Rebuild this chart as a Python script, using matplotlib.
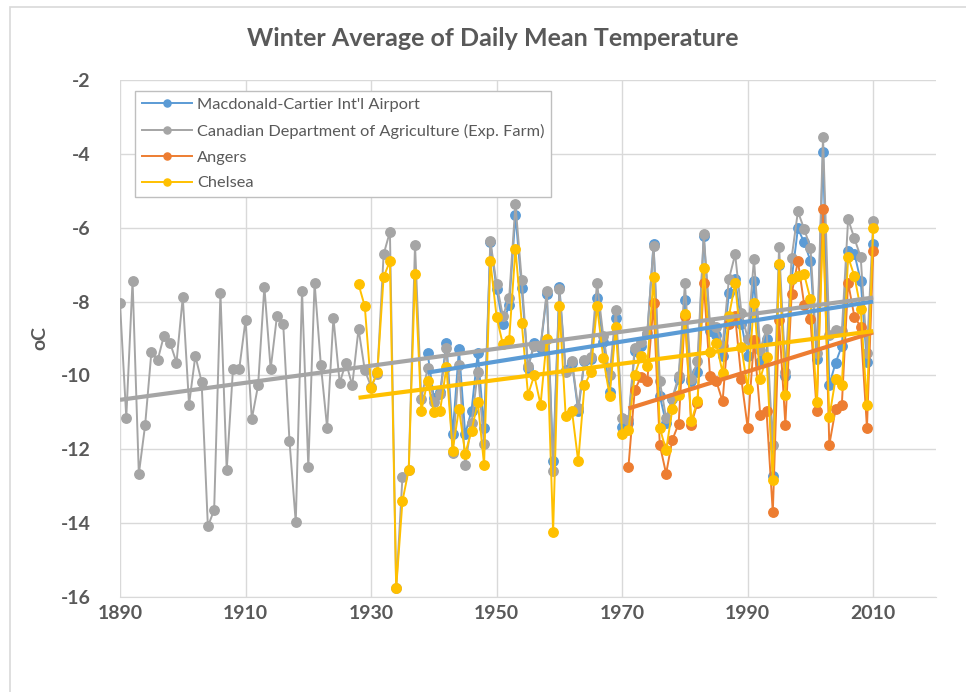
import numpy as np
import matplotlib.pyplot as plt
from matplotlib.patches import Rectangle

plt.rcParams['font.family'] = ['Lato', 'DejaVu Sans']
plt.rcParams['axes.unicode_minus'] = False

# 데이터
farm_years = list(range(1890, 2011))
farm = [-8.05, -11.14, -7.43, -12.67, -11.35, -9.37, -9.59, -8.92, -9.13, -9.65,
        -7.88, -10.79, -9.47, -10.17, -14.09, -13.64, -7.77, -12.57, -9.82, -9.82,
        -8.50, -11.18, -10.27, -7.60, -9.83, -8.40, -8.60, -11.77, -13.98, -7.71,
        -12.49, -7.49, -9.72, -11.42, -8.44, -10.20, -9.65, -10.27, -8.74, -9.86,
        -10.30, -9.95, -6.72, -6.11, -15.76, -12.75, -12.55, -6.46, -10.63, -9.81,
        -10.71, -10.50, -9.25, -12.10, -9.72, -12.42, -11.30, -9.91, -11.86, -6.36,
        -7.53, -8.39, -7.90, -5.36, -7.42, -9.75, -9.20, -9.21, -7.72, -12.60,
        -7.67, -9.91, -9.60, -10.88, -9.57, -9.50, -7.49, -8.94, -10.00, -8.23,
        -11.15, -11.20, -9.25, -9.10, -8.85, -6.49, -10.16, -11.15, -10.61, -10.02,
        -7.51, -10.11, -9.61, -6.18, -8.60, -8.70, -9.20, -7.40, -6.72, -8.30,
        -9.00, -6.84, -9.30, -8.74, -11.88, -6.52, -9.90, -6.81, -5.56, -6.04,
        -6.54, -9.40, -3.54, -8.90, -8.77, -8.80, -5.77, -6.29, -6.79, -9.39,
        -5.83]

airport_years = list(range(1939, 2011))
airport = [-9.39, -10.60, -10.45, -9.12, -11.59, -9.29, -11.59, -10.95, -9.39, -11.43,
           -6.40, -7.66, -8.62, -8.08, -5.66, -7.63, -9.80, -9.12, -9.25, -7.80,
           -12.33, -7.60, -9.85, -9.65, -10.97, -9.60, -9.55, -7.90, -9.10, -10.45,
           -8.44, -11.39, -11.30, -9.35, -9.20, -8.89, -6.43, -10.55, -11.30, -10.65,
           -10.10, -7.96, -10.15, -9.90, -6.22, -8.80, -8.90, -9.48, -7.77, -7.40,
           -8.60, -9.48, -7.43, -9.64, -9.00, -12.73, -7.00, -10.02, -7.40, -6.02,
           -6.40, -6.90, -9.55, -3.96, -10.26, -9.66, -9.20, -6.63, -6.70, -7.44,
           -9.64, -6.45]

chelsea_years = list(range(1928, 2011))
chelsea = [-7.53, -8.13, -10.33, -9.91, -7.33, -6.91, -15.76, -13.40, -12.55, -7.26,
           -10.96, -10.15, -10.99, -10.95, -9.78, -12.04, -10.90, -12.12, -11.50, -10.72,
           -12.42, -6.91, -8.42, -9.16, -9.03, -6.57, -8.57, -10.52, -10.00, -10.79,
           -9.00, -14.25, -8.12, -11.09, -10.95, -12.33, -10.27, -9.91, -8.12, -9.54,
           -10.55, -8.69, -11.58, -11.49, -9.99, -9.48, -9.75, -7.33, -11.42, -12.03,
           -10.91, -10.52, -8.33, -11.24, -10.70, -7.08, -9.37, -9.12, -9.93, -8.40,
           -7.51, -9.23, -10.37, -8.03, -10.09, -9.50, -12.82, -6.97, -10.52, -7.38,
           -7.30, -7.26, -7.94, -10.72, -6.01, -11.13, -10.09, -10.27, -6.79, -7.31,
           -8.20, -10.79, -6.01]

angers_years = list(range(1971, 2011))
angers = [-12.48, -10.40, -10.04, -10.16, -8.05, -11.88, -12.66, -11.74, -11.31, -8.38,
          -11.33, -10.75, -7.49, -10.02, -10.16, -10.70, -8.60, -8.40, -10.11, -11.42,
          -9.04, -11.06, -10.97, -13.71, -8.50, -11.33, -7.80, -6.90, -8.08, -8.48,
          -10.97, -5.48, -11.88, -10.92, -10.79, -7.49, -8.41, -8.68, -11.42, -6.63]

series = [
    ("Macdonald-Cartier Int'l Airport", airport_years, airport, '#5B9BD5'),
    ('Canadian Department of Agriculture (Exp. Farm)', farm_years, farm, '#A5A5A5'),
    ('Angers', angers_years, angers, '#ED7D31'),
    ('Chelsea', chelsea_years, chelsea, '#FFC000'),
]

fig = plt.figure(figsize=(9.66, 6.92), dpi=100)
ax = fig.add_axes([120 / 966, 1 - 597 / 692, 816 / 966, 517 / 692])

# 바깥 테두리 (엑셀 차트 영역)
fig.patches.append(Rectangle((10 / 966, -0.05), 1.0, 1 - 7 / 692 + 0.05,
                             transform=fig.transFigure, fill=False,
                             edgecolor='#d9d9d9', linewidth=1.2))

for name, yrs, vals, col in series:
    ax.plot(yrs, vals, color=col, lw=1.4, marker='o', ms=6.8, label=name, zorder=2)

# 추세선
for name, yrs, vals, col in series:
    k, b = np.polyfit(yrs, vals, 1)
    xs = np.array([yrs[0], yrs[-1]])
    ax.plot(xs, k * xs + b, color=col, lw=3, solid_capstyle='butt', zorder=3)

ax.set_xlim(1890, 2020)
ax.set_ylim(-16, -2)
ax.set_xticks(range(1890, 2011, 20))
ax.set_yticks(range(-16, -1, 2))
ax.grid(True, color='#d9d9d9', lw=1)
ax.set_axisbelow(True)
for s in ['top', 'right', 'left']:
    ax.spines[s].set_visible(False)
ax.spines['bottom'].set_color('#d9d9d9')
ax.tick_params(length=0, labelsize=14, labelcolor='#595959')
ax.tick_params(axis='y', pad=21)
ax.tick_params(axis='x', pad=6)
for t in ax.get_xticklabels() + ax.get_yticklabels():
    t.set_fontweight('bold')

ax.set_ylabel('oC', fontsize=14, fontweight='bold', color='#595959', labelpad=9)
fig.text(0.51, 1 - 38 / 692, 'Winter Average of Daily Mean Temperature',
         ha='center', va='center', fontsize=18, fontweight='bold', color='#595959')

leg = ax.legend(loc='upper left', bbox_to_anchor=(135 / 966, 1 - 91 / 692),
                bbox_transform=fig.transFigure, fontsize=11.8, frameon=True,
                fancybox=False, edgecolor='#bfbfbf', framealpha=1,
                handlelength=3.1, markerscale=0.75, labelspacing=0.7,
                borderpad=0.4, borderaxespad=0, handletextpad=0.3)
leg._legend_box.align = 'left'
leg.get_frame().set_linewidth(1)
for t in leg.get_texts():
    t.set_color('#595959')

plt.savefig('out.png', dpi=100)
